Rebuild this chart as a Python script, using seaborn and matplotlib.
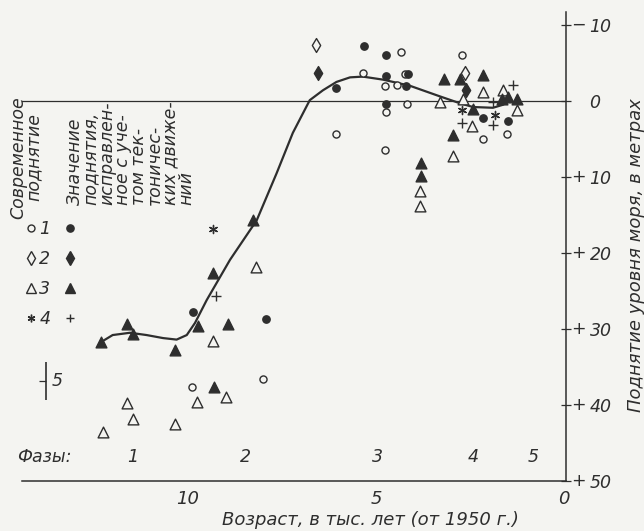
import numpy as np
import pandas as pd
import matplotlib
matplotlib.use("Agg")
import matplotlib.pyplot as plt
import matplotlib.transforms as mtransforms
from matplotlib.lines import Line2D
import seaborn as sns

# age in thousand years BP, rise = how far the sea stood below today (m)
# 1 - circles, 2 - diamonds, 3 - triangles, 4 - asterisk / plus
# "open" = present-day elevation, "fill" = corrected for tectonics
circ_open_age = [9.88, 8.00, 6.05, 5.34, 4.76, 4.45, 4.73, 4.76, 4.34, 4.23, 4.17, 2.72, 2.16, 1.52]
circ_open_rise = [37.7, 36.6, 4.4, -3.7, -2.0, -2.1, 1.5, 6.4, -6.5, -3.6, 0.4, -6.1, 5.0, 4.4]
circ_fill_age = [9.86, 7.93, 6.05, 5.31, 4.73, 4.73, 4.73, 4.14, 4.20, 2.15, 1.48]
circ_fill_rise = [27.8, 28.7, -1.7, -7.2, -6.1, -3.3, 0.4, -3.6, -2.0, 2.3, 2.7]

diam_open_age = [6.60, 2.63]
diam_open_rise = [-7.4, -3.7]
diam_fill_age = [6.53, 2.61]
diam_fill_rise = [-3.7, -1.5]

tri_open_age = [12.25, 11.63, 11.45, 10.35, 9.77, 9.33, 8.99, 8.20, 3.83, 3.83,
                3.30, 2.96, 2.68, 2.16, 2.44, 1.61, 1.26]
tri_open_rise = [43.5, 39.7, 41.8, 42.5, 39.6, 31.6, 38.9, 21.8, 11.8, 13.8,
                 0.1, 7.2, -0.2, -1.2, 3.3, -1.5, 1.2]
tri_fill_age = [12.30, 11.63, 11.45, 10.35, 9.73, 8.93, 9.33, 8.26, 9.30, 3.81,
                3.81, 3.19, 2.77, 2.16, 2.96, 2.43, 1.66, 1.49, 1.26]
tri_fill_rise = [31.7, 29.3, 30.6, 32.8, 29.6, 29.3, 22.7, 15.7, 37.7, 8.2,
                 9.9, -2.9, -2.9, -3.4, 4.5, 1.1, -0.2, -0.5, -0.2]

star_age = [9.33, 2.70, 1.84]
star_rise = [16.8, 1.2, 1.8]
plus_age = [9.24, 2.70, 1.88, 1.88, 1.35]
plus_rise = [25.6, 2.9, 3.2, 0.1, -2.1]

# hand-drawn mean curve
curve_age = [12.30, 12.00, 11.54, 11.10, 10.66, 10.30, 10.03, 9.81, 9.50, 8.88,
             8.17, 7.64, 7.21, 6.76, 6.41, 6.05, 5.69, 5.35, 4.81, 4.10,
             3.30, 2.77, 2.42, 1.89, 1.62, 1.44]
curve_rise = [31.7, 30.8, 30.5, 30.8, 31.2, 31.4, 30.8, 29.2, 26.2, 20.9,
              15.7, 9.5, 4.2, -0.1, -1.4, -2.5, -3.1, -3.2, -2.8, -2.0,
              -0.6, 0.3, 0.8, 0.9, 0.5, -0.1]

phase_names = ["1", "2", "3", "4", "5"]
phase_mid = [11.46, 8.48, 4.97, 2.42, 0.82]
phase_bounds = [12.6, 7, 3, 1.5]
y_ticks = [-10, 0, 10, 20, 30, 40, 50]

INK = "#2e2e2e"
BG = "#f4f4f1"

sns.set_style("white")
plt.rcParams["font.family"] = ["DejaVu Sans"]
plt.rcParams["font.style"] = "italic"
plt.rcParams["text.color"] = INK
plt.rcParams["xtick.color"] = INK
plt.rcParams["ytick.color"] = INK

fig = plt.figure(figsize=(6.44, 5.31), dpi=100, facecolor=BG)
ax = fig.add_axes([0.0342, 0.0942, 0.8447, 0.8832])
ax.set_facecolor(BG)

ax.axhline(0, color=INK, lw=0.9, zorder=1)

curve = pd.DataFrame({"age": curve_age, "rise": curve_rise})
sns.lineplot(data=curve, x="age", y="rise", sort=False, estimator=None,
             color=INK, lw=1.6, ax=ax, zorder=2)

groups = [
    (circ_open_age, circ_open_rise, "o", 26, BG),
    (circ_fill_age, circ_fill_rise, "o", 28, INK),
    (diam_open_age, diam_open_rise, "d", 50, BG),
    (diam_fill_age, diam_fill_rise, "d", 50, INK),
    (tri_open_age, tri_open_rise, "^", 60, BG),
    (tri_fill_age, tri_fill_rise, "^", 60, INK),
]
for a, r, m, s, fc in groups:
    sns.scatterplot(x=a, y=r, marker=m, s=s, facecolor=fc, edgecolor=INK,
                    linewidth=1.0, ax=ax, zorder=3)
sns.scatterplot(x=star_age, y=star_rise, marker=(6, 2, 0), s=34, color=INK,
                linewidth=1.0, ax=ax, zorder=3)
sns.scatterplot(x=plus_age, y=plus_rise, marker="+", s=45, color=INK,
                linewidth=1.0, ax=ax, zorder=3)

ax.set_xlim(14.41, -0.053)
ax.set_ylim(50.0, -11.7)

for side in ["left", "top"]:
    ax.spines[side].set_visible(False)
for side in ["right", "bottom"]:
    ax.spines[side].set_color(INK)
    ax.spines[side].set_linewidth(1.1)

# x axis: kyr ticks, phase boundaries longer
major = sorted(phase_bounds + [10, 5, 0], reverse=True)
ax.set_xticks(major)
ax.set_xticklabels(["10" if t == 10 else "5" if t == 5 else "0" if t == 0 else ""
                    for t in major], fontsize=13)
ax.set_xticks([1, 2, 4, 6, 8, 9, 11, 12], minor=True)
ax.tick_params(axis="x", which="major", direction="in", length=5.5, width=0.9, pad=6.5)
ax.tick_params(axis="x", which="minor", direction="in", length=3, width=0.9)

ax.yaxis.tick_right()
ax.set_yticks(y_ticks)
ax.set_yticklabels([str(abs(v)) for v in y_ticks], fontsize=12.5, ha="left")
ax.tick_params(axis="y", which="major", direction="inout", length=7, width=0.9, pad=13.5)
ax.set_xlabel("")
ax.set_ylabel("")

blend = mtransforms.blended_transform_factory(ax.transAxes, ax.transData)
for v in y_ticks:
    if v != 0:
        ax.text(1.022, v, "\u2212" if v < 0 else "+", transform=blend,
                ha="center", va="center", fontsize=12.5)

ax.text(0.64, -0.083, "Возраст, в тыс. лет (от 1950 г.)", transform=ax.transAxes,
        ha="center", va="center", fontsize=13)
ax.text(1.129, 0.482, "Поднятие уровня моря, в метрах", transform=ax.transAxes,
        ha="center", va="center", rotation=90, fontsize=13)

# phases
ax.text(14.55, 46.8, "Фазы:", ha="left", va="center", fontsize=12.5)
for name, mid in zip(phase_names, phase_mid):
    ax.text(mid, 46.8, name, ha="center", va="center", fontsize=12.5)

# legend captions
ax.text(14.31, 7.4, "Современное\nподнятие", rotation=90, ha="center", va="center",
        multialignment="center", fontsize=12.5, linespacing=0.85)
ax.text(11.52, 13.7, "Значение\nподнятия,\nисправлен-\nное с уче-\nтом тек-\nтоничес-\nких движе-\nний",
        rotation=90, ha="center", va="bottom", multialignment="left",
        fontsize=12.5, linespacing=0.85)

handles = [
    Line2D([], [], ls="none", marker="o", ms=5, mfc=BG, mec=INK, mew=1.0),
    Line2D([], [], ls="none", marker="d", ms=7.5, mfc=BG, mec=INK, mew=1.0),
    Line2D([], [], ls="none", marker="^", ms=7.5, mfc=BG, mec=INK, mew=1.0),
    Line2D([], [], ls="none", marker=(6, 2, 0), ms=5.5, color=INK, mew=1.0),
    Line2D([], [], ls="none", marker="o", ms=5.2, mfc=INK, mec=INK),
    Line2D([], [], ls="none", marker="d", ms=7.5, mfc=INK, mec=INK),
    Line2D([], [], ls="none", marker="^", ms=7.5, mfc=INK, mec=INK),
    Line2D([], [], ls="none", marker="+", ms=6, color=INK, mew=1.0),
]
ax.legend(handles, ["1", "2", "3", "4", "", "", "", ""], ncol=2, frameon=False,
          loc="upper left", bbox_to_anchor=(0.0046, 0.5565), borderaxespad=0,
          borderpad=0, handlelength=0.8, handletextpad=0.05, columnspacing=0.72,
          labelspacing=0.7, fontsize=12.5)

# 5 m scale bar
ax.vlines(13.76, 34.3, 39.3, color=INK, lw=1.2)
ax.hlines(36.8, 13.76, 13.95, color=INK, lw=0.9)
ax.text(13.48, 36.8, "5", ha="center", va="center", fontsize=12.5)

fig.savefig("out.png", dpi=100, facecolor=BG)
